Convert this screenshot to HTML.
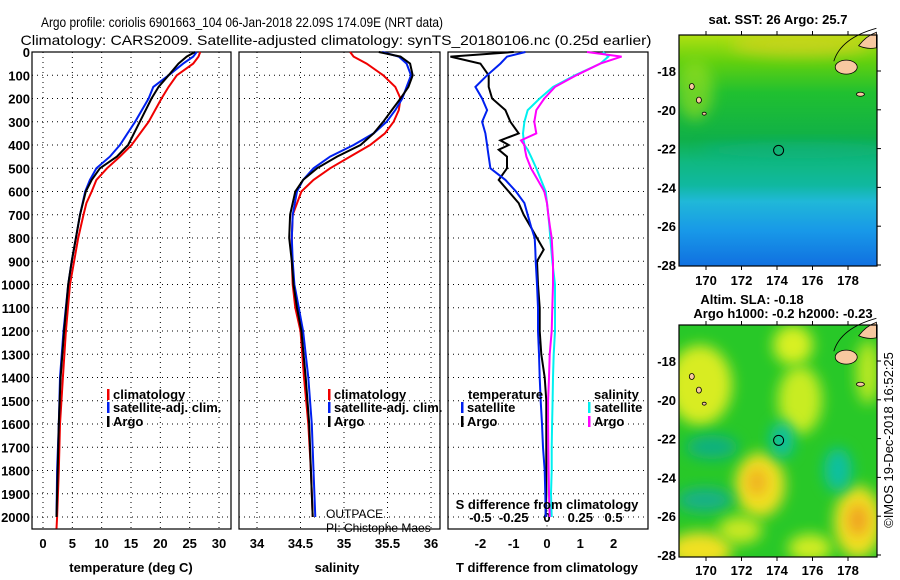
<!DOCTYPE html>
<html><head><meta charset="utf-8"><style>
html,body{margin:0;padding:0;background:#fff;}
svg{display:block;font-family:"Liberation Sans",sans-serif;}
.b{font-weight:bold;font-size:13px;}
</style></head><body>
<svg id="c" width="900" height="580" viewBox="0 0 900 580" xmlns="http://www.w3.org/2000/svg">
<defs>
<linearGradient id="sstg" x1="0" y1="0" x2="0" y2="1">
<stop offset="0" stop-color="#b0e010"/><stop offset="0.12" stop-color="#60d010"/>
<stop offset="0.25" stop-color="#20c030"/><stop offset="0.45" stop-color="#10b048"/>
<stop offset="0.55" stop-color="#10b880"/><stop offset="0.65" stop-color="#10b8a0"/>
<stop offset="0.72" stop-color="#20b8d8"/><stop offset="0.85" stop-color="#1898e8"/>
<stop offset="1" stop-color="#1070e0"/></linearGradient>
<filter id="blur" x="-50%" y="-50%" width="200%" height="200%"><feGaussianBlur stdDeviation="7"/></filter>
<clipPath id="m2clip"><rect x="679" y="325" width="198" height="232"/></clipPath>
<clipPath id="m1clip"><rect x="679" y="35" width="198" height="231"/></clipPath>
</defs>
<text x="242" y="27" text-anchor="middle" font-size="14" textLength="402" lengthAdjust="spacingAndGlyphs">Argo profile: coriolis 6901663_104 06-Jan-2018 22.09S 174.09E (NRT data)</text>
<text x="336" y="45" text-anchor="middle" font-size="14" textLength="631" lengthAdjust="spacingAndGlyphs">Climatology: CARS2009. Satellite-adjusted climatology: synTS_20180106.nc (0.25d earlier)</text>
<g id="p1"></g>
<g id="p2"></g>
<g id="p3"></g>
<g id="maps"></g>
<text transform="translate(893,440) rotate(-90)" text-anchor="middle" font-size="13">©IMOS 19-Dec-2018 16:52:25</text>
</svg>
<script>
// ---- data ----
const depthT = [0,20,50,100,150,200,300,400,450,500,550,600,700,800,900,1000,1200,1400,1600,1800,2000];
const tempArgo = [25.9,24.5,23.1,21.4,19.7,18.5,16.5,14.5,12.6,9.7,8.3,7.3,6.3,5.6,4.9,4.3,3.6,3.0,2.7,2.5,2.3];
const tempSat  = [26.2,25.6,23.9,21.4,18.8,18.0,15.7,13.1,11.4,9.1,8.0,7.2,6.3,5.6,4.9,4.3,3.5,2.9,2.7,2.4,2.3];
const depthTC = [0,20,50,100,150,200,300,400,450,500,550,600,650,700,800,900,1000,1200,1400,1600,1800,2000,2050];
const tempClim = [26.8,26.5,25.6,22.8,21.4,20.2,18.0,15.1,13.1,10.9,9.1,8.3,7.4,6.9,6.0,5.3,4.6,3.9,3.4,2.9,2.7,2.4,2.3];
const depthS = [0,20,50,100,150,200,250,300,350,400,450,500,550,600,700,800,900,1000,1100,1200,1400,1600,1800,2000];
const salArgo = [35.40,35.65,35.76,35.79,35.74,35.65,35.55,35.45,35.34,35.19,34.92,34.69,34.53,34.44,34.38,34.37,34.40,34.42,34.46,34.51,34.56,34.60,34.62,34.64];
const salSat  = [35.44,35.63,35.72,35.77,35.72,35.67,35.59,35.49,35.34,35.11,34.84,34.65,34.53,34.46,34.41,34.40,34.41,34.43,34.48,34.53,34.59,34.63,34.65,34.67];
const salClim = [35.07,35.11,35.26,35.45,35.59,35.65,35.63,35.57,35.47,35.30,35.07,34.84,34.65,34.51,34.41,34.40,34.40,34.41,34.44,34.50,34.54,34.59,34.62,34.64];
const depthD = [0,20,50,100,150,200,250,300,350,380,400,420,450,500,550,600,650,700,750,800,850,900,1000,1100,1200,1300,1400,1500,1600,1700,1800,1900,2000];
const dTArgo = [-1.0,-2.9,-2.0,-1.75,-1.75,-1.65,-1.25,-1.1,-0.85,-1.4,-1.15,-1.45,-1.2,-1.2,-1.45,-1.15,-0.85,-0.7,-0.5,-0.3,-0.1,-0.3,-0.27,-0.22,-0.22,-0.17,-0.07,-0.02,-0.02,-0.02,-0.02,-0.02,-0.04];
const dTSat  = [-0.65,-1.2,-1.4,-1.8,-2.15,-1.95,-1.8,-1.95,-1.85,-1.82,-1.8,-1.78,-1.75,-1.7,-1.25,-0.93,-0.68,-0.58,-0.48,-0.37,-0.35,-0.34,-0.3,-0.27,-0.27,-0.24,-0.22,-0.19,-0.15,-0.12,-0.07,-0.05,-0.04];
const dSSat  = [0.42,0.46,0.40,0.21,0.045,-0.055,-0.145,-0.17,-0.18,-0.175,-0.17,-0.145,-0.12,-0.08,-0.045,-0.01,0.0,0.01,0.018,0.025,0.032,0.04,0.06,0.06,0.06,0.05,0.045,0.042,0.038,0.035,0.035,0.03,0.035];
const dSArgo = [0.3,0.56,0.4,0.22,0.06,-0.02,-0.08,-0.095,-0.08,-0.195,-0.17,-0.165,-0.155,-0.12,-0.07,-0.02,0.0,0.01,0.022,0.035,0.04,0.045,0.045,0.04,0.035,0.02,0.015,0.008,0.008,0.01,0.012,0.015,0.02];
const depthTicks = [0,100,200,300,400,500,600,700,800,900,1000,1100,1200,1300,1400,1500,1600,1700,1800,1900,2000];
const tempTicks = [0,5,10,15,20,25,30];
const salTicks = [34,34.5,35,35.5,36];
const salTickLabels = ["34","34.5","35","35.5","36"];
const dTTicks = [-2,-1,0,1,2];
const dSTicks = [-0.5,-0.25,0,0.25,0.5];
const dSTickLabels = ["-0.5","-0.25","0","0.25","0.5"];
const lonTicks = [170,172,174,176,178];
const latTicks = [-18,-20,-22,-24,-26,-28];
const argoLon = 174.09, argoLat = -22.09;

// ---- scales ----
const NS="http://www.w3.org/2000/svg";
const Y = d => 52 + d*0.2325;
const XT = t => 43 + t*5.867;
const XS = s => 257 + (s-34)*87;
const XD = t => 547 + t*33.3;
const XDS = s => 547 + s*133.2;
const LON = l => 706 + (l-170)*17.75;
const LAT1 = a => 71 + (-18-a)*19.4;
const LAT2 = a => 361 + (-18-a)*19.4;
function el(tag, attrs, parent, txt){const e=document.createElementNS(NS,tag);for(const k in attrs)e.setAttribute(k,attrs[k]);if(txt!==undefined)e.textContent=txt;parent.appendChild(e);return e;}

function frame(g,x0,x1){
  el('rect',{x:x0,y:52,width:x1-x0,height:477,fill:'#fff',stroke:'#000','stroke-width':1.2},g);
}
function hgrid(g,x0,x1,labels){
  depthTicks.forEach(d=>{
    const l=el('line',{x1:x0,x2:x1,y1:Y(d),y2:Y(d),stroke:'#000','stroke-width':1,'stroke-dasharray':'1,4'},g);
    
    
    if(labels){const t=el('text',{x:30,y:Y(d)+5,'text-anchor':'end','class':'b'},g,String(d));
      
      }
  });
}
function line(g,xs,ys,fx,color,name){
  const pts=xs.map((v,i)=>fx(v).toFixed(1)+','+Y(ys[i]).toFixed(1)).join(' ');
  const p=el('polyline',{points:pts,fill:'none',stroke:color,'stroke-width':2,'stroke-linejoin':'miter'},g);
  
  
}
function legend(g,x,y,color,text,name){
  el('rect',{x:x,y:y-10,width:2.5,height:11,fill:color},g);
  const t=el('text',{x:x+6,y:y,'class':'b','font-size':12.5},g,text);
  
  
}

// Panel 1
const p1=document.getElementById('p1');
frame(p1,32,231); hgrid(p1,32,231,true);
tempTicks.forEach(t=>{
  const l=el('line',{x1:XT(t),x2:XT(t),y1:52,y2:529,stroke:'#000','stroke-dasharray':'1,4'},p1);
  
  
  const tx=el('text',{x:XT(t),y:548,'text-anchor':'middle','class':'b'},p1,String(t));
  
  
});
line(p1,tempClim,depthTC,XT,'#f00000','temp-climatology-line');
line(p1,tempSat,depthT,XT,'#0020f0','temp-satellite-line');
line(p1,tempArgo,depthT,XT,'#000','temp-argo-line');
legend(p1,107,399,'#f00000','climatology','legend-climatology');
legend(p1,107,412,'#0020f0','satellite-adj. clim.','legend-satellite');
legend(p1,107,426,'#000','Argo','legend-argo');
el('text',{x:131,y:572,'text-anchor':'middle','class':'b'},p1,'temperature (deg C)');

// Panel 2
const p2=document.getElementById('p2');
frame(p2,239,440); hgrid(p2,239,440,false);
salTicks.forEach((s,i)=>{
  const l=el('line',{x1:XS(s),x2:XS(s),y1:52,y2:529,stroke:'#000','stroke-dasharray':'1,4'},p2);
  
  
  const tx=el('text',{x:XS(s),y:548,'text-anchor':'middle','class':'b'},p2,salTickLabels[i]);
  
  
});
line(p2,salClim,depthS,XS,'#f00000','sal-climatology-line');
line(p2,salSat,depthS,XS,'#0020f0','sal-satellite-line');
line(p2,salArgo,depthS,XS,'#000','sal-argo-line');
legend(p2,328,399,'#f00000','climatology','legend-climatology-sal');
legend(p2,328,412,'#0020f0','satellite-adj. clim.','legend-satellite-sal');
legend(p2,328,426,'#000','Argo','legend-argo-sal');
el('text',{x:326,y:518,'font-size':12},p2,'OUTPACE');
el('text',{x:326,y:532,'font-size':12},p2,'PI: Chistophe Maes');
el('text',{x:337,y:572,'text-anchor':'middle','class':'b'},p2,'salinity');

// Panel 3
const p3=document.getElementById('p3');
frame(p3,448,648); hgrid(p3,448,648,false);
el('line',{x1:XD(0),x2:XD(0),y1:Y(1950),y2:529,stroke:'#000','stroke-dasharray':'1,4'},p3);
dTTicks.forEach(t=>{
  const tx=el('text',{x:XD(t),y:548,'text-anchor':'middle','class':'b'},p3,String(t));
  
  
});
dSTicks.forEach((s,i)=>{
  const tx=el('text',{x:XDS(s),y:522,'text-anchor':'middle','class':'b','font-size':12.5},p3,dSTickLabels[i]);
  
  
});
line(p3,dTArgo,depthD,XD,'#000','dt-argo-line');
line(p3,dTSat,depthD,XD,'#0020f0','dt-satellite-line');
line(p3,dSSat,depthD,XDS,'#00f0f0','ds-satellite-line');
line(p3,dSArgo,depthD,XDS,'#ff00ff','ds-argo-line');
el('text',{x:468,y:399,'class':'b','font-size':12.5},p3,'temperature');
legend(p3,461,412,'#0020f0','satellite','legend-dt-satellite');
legend(p3,461,426,'#000','Argo','legend-dt-argo');
el('text',{x:594,y:399,'class':'b','font-size':12.5},p3,'salinity');
legend(p3,588,412,'#00f0f0','satellite','legend-ds-satellite');
legend(p3,588,426,'#ff00ff','Argo','legend-ds-argo');
el('text',{x:547,y:509,'text-anchor':'middle','class':'b','font-size':12.5},p3,'S difference from climatology');
el('text',{x:547,y:572,'text-anchor':'middle','class':'b'},p3,'T difference from climatology');

// Maps
const mg=document.getElementById('maps');
function islands(g,LAT){
  el('ellipse',{cx:LON(177.9),cy:LAT(-17.8),rx:11,ry:7,fill:'#f8c8a0',stroke:'#000','stroke-width':0.8},g);
  el('path',{d:`M${LON(178.6)} ${LAT(-16.7)} Q${LON(179)} ${LAT(-16.2)} ${LON(179.6)} ${LAT(-16.0)} L${LON(179.6)} ${LAT(-16.8)} Q${LON(179.1)} ${LAT(-16.9)} ${LON(178.6)} ${LAT(-16.7)}Z`,fill:'#f8c8a0',stroke:'#000','stroke-width':0.8},g);
  el('path',{d:`M${LON(177.2)} ${LAT(-17.5)} Q${LON(177.6)} ${LAT(-16.3)} ${LON(179.6)} ${LAT(-15.8)}`,fill:'none',stroke:'#000','stroke-width':0.8},g);
  el('ellipse',{cx:LON(178.7),cy:LAT(-19.2),rx:4,ry:2,fill:'#f8c8a0',stroke:'#000','stroke-width':0.8},g);
  el('ellipse',{cx:LON(169.2),cy:LAT(-18.8),rx:2.5,ry:3,fill:'#f8c8a0',stroke:'#000','stroke-width':0.8},g);
  el('ellipse',{cx:LON(169.6),cy:LAT(-19.5),rx:2.5,ry:3,fill:'#f8c8a0',stroke:'#000','stroke-width':0.8},g);
  el('ellipse',{cx:LON(169.9),cy:LAT(-20.2),rx:2,ry:1.5,fill:'#f8c8a0',stroke:'#000','stroke-width':0.8},g);
}
function axes(g,LAT,y0,y1,labY){
  el('rect',{x:679,y:y0,width:198,height:y1-y0,fill:'none',stroke:'#000','stroke-width':1.2},g);
  lonTicks.forEach(l=>{
    el('line',{x1:LON(l),x2:LON(l),y1:y0,y2:y0-4,stroke:'#000'},g);
    el('line',{x1:LON(l),x2:LON(l),y1:y1,y2:y1+4,stroke:'#000'},g);
    const t=el('text',{x:LON(l),y:labY,'text-anchor':'middle','class':'b'},g,String(l));
    
    
  });
  latTicks.forEach(a=>{
    el('line',{x1:877,x2:881,y1:LAT(a),y2:LAT(a),stroke:'#000'},g);
    const t=el('text',{x:676,y:LAT(a)+5,'text-anchor':'end','class':'b'},g,String(a));
    
    
  });
  el('circle',{cx:LON(argoLon),cy:LAT(argoLat),r:5,fill:'none',stroke:'#000','stroke-width':1},g);
}
// SST map
const m1=el('g',{},mg);  
el('rect',{x:679,y:35,width:198,height:231,fill:'url(#sstg)'},m1);
const bl1=el('g',{'clip-path':'url(#m1clip)'},m1);
el('ellipse',{cx:800,cy:45,rx:70,ry:12,fill:'#e0d020',opacity:0.6,filter:'url(#blur)'},bl1);
el('ellipse',{cx:695,cy:90,rx:18,ry:30,fill:'#a0e020',opacity:0.6,filter:'url(#blur)'},bl1);
el('ellipse',{cx:800,cy:150,rx:100,ry:8,fill:'#10b090',opacity:0.5,filter:'url(#blur)'},bl1);
islands(m1,LAT1);
axes(m1,LAT1,35,266,285);
el('text',{x:778,y:24,'text-anchor':'middle','class':'b','font-size':12.5},m1,'sat. SST: 26 Argo: 25.7');
// SLA map
const m2=el('g',{},mg);  
el('rect',{x:679,y:325,width:198,height:232,fill:'#28c828'},m2);
const bl=el('g',{'clip-path':'url(#m2clip)'},m2);
const blobs=[[700,385,32,40,'#d8ec20'],[793,345,20,20,'#d8f020'],[800,400,22,34,'#c8ec20'],[760,485,25,32,'#f0e020'],[757,482,10,14,'#f0b020'],
[858,522,24,36,'#f0e020'],[858,520,10,16,'#f0a020'],[700,550,32,18,'#f0e020'],[712,447,26,12,'#10b080'],[782,440,12,18,'#10c0a0'],
[838,470,14,22,'#10c0a0'],[705,500,28,12,'#18b088'],[868,372,12,32,'#b8e820'],[810,548,22,14,'#d0ec20'],[740,530,22,14,'#c8e820']];
blobs.forEach(b=>el('ellipse',{cx:b[0],cy:b[1],rx:b[2],ry:b[3],fill:b[4],filter:'url(#blur)'},bl));
islands(m2,LAT2);
axes(m2,LAT2,325,557,575);
el('text',{x:752,y:304,'text-anchor':'middle','class':'b','font-size':12.5},m2,'Altim. SLA: -0.18');
el('text',{x:783,y:318,'text-anchor':'middle','class':'b','font-size':12.5},m2,'Argo h1000: -0.2 h2000: -0.23');
</script>
</body></html>
